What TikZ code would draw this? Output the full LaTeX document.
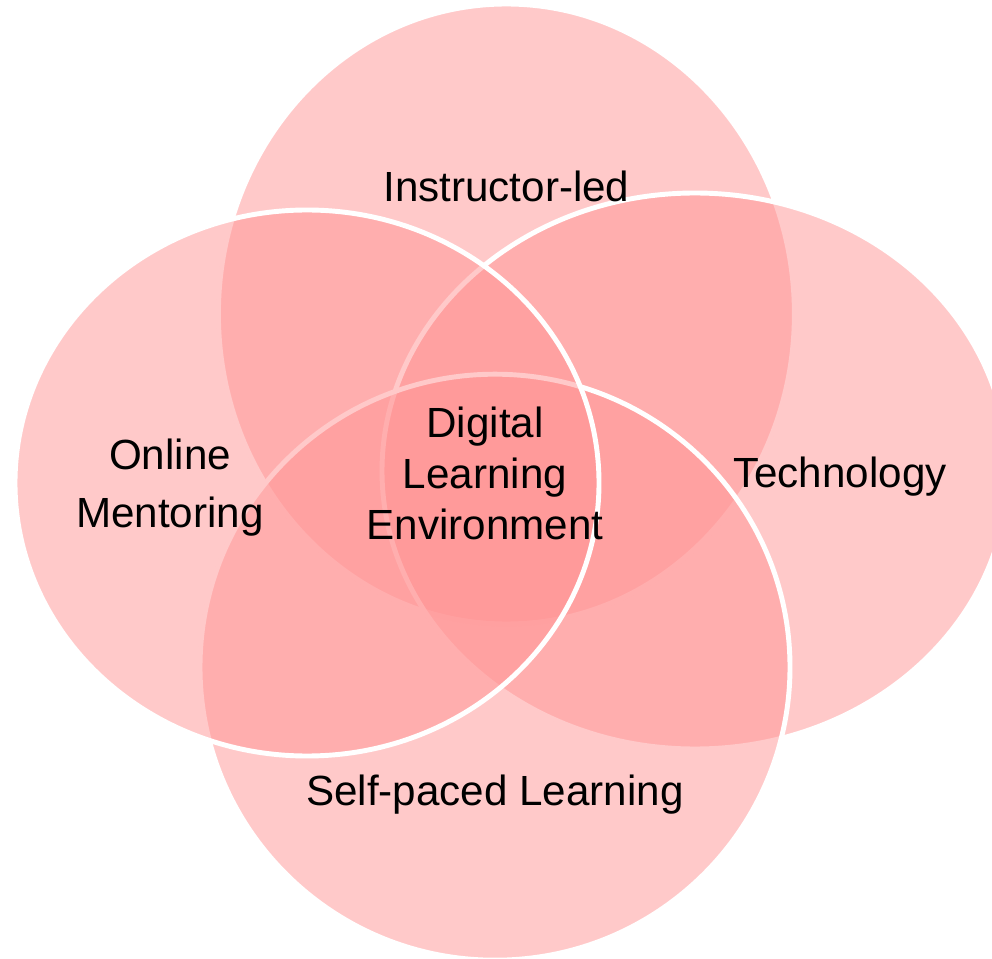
\documentclass[tikz,border=0pt]{standalone}
\usepackage{fontspec}
\setmainfont{Liberation Sans}
\usepackage{tikz}
\usetikzlibrary{shapes,positioning}
\definecolor{vennpink}{RGB}{255,148,148}
\tikzstyle{vennset} = [ellipse, inner sep=0pt, fill=vennpink, fill opacity=0.5, draw=white, line width=3.5pt]
\tikzstyle{vennlabel} = [font=\fontsize{30}{36.3}\selectfont, align=center, inner sep=0pt, text=black]

\begin{document}
\begin{tikzpicture}
\useasboundingbox (0,0) rectangle (24.8,23.95);
% the four sets, back to front
\node[vennset, minimum width=14.4cm, minimum height=15.5cm] (instr) at (12.66,16.1) {};
\node[vennset, minimum width=15.65cm, minimum height=13.9cm] (tech) at (17.375,12.175) {};
\node[vennset, minimum width=14.75cm, minimum height=14.65cm] (selfpaced) at (12.375,7.27) {};
\node[vennset, minimum width=14.6cm, minimum height=13.65cm] (mentor) at (7.675,11.875) {};

% labels
\node[vennlabel, anchor=base] (instrtext) at (12.66,18.9) {Instructor-led};
\node[vennlabel, anchor=base] (techtext) at (21.0,11.75) {Technology};
\node[vennlabel, anchor=base] (selftext) at (12.375,3.825) {Self-paced Learning};
\node[vennlabel, anchor=north, font=\fontsize{30}{41.3}\selectfont] (mentortext) at (4.25,12.975) {Online\\Mentoring};
\node[vennlabel, anchor=north] (coretext) at (12.125,13.775) {Digital\\Learning\\Environment};
\end{tikzpicture}
\end{document}
